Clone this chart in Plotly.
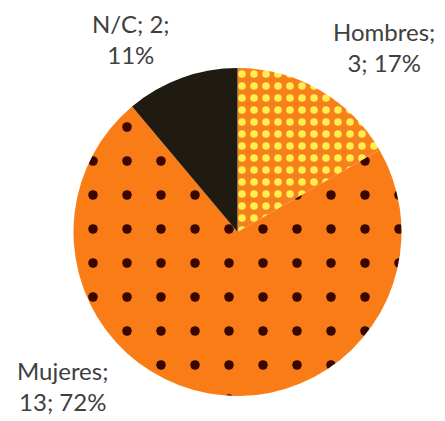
import plotly.graph_objects as go

labels = ["Hombres", "Mujeres", "N/C"]
values = [3, 13, 2]
percents = ["17%", "72%", "11%"]

bg_colors = ["#F8801A", "#F97C16", "#1F1B10"]
fg_colors = ["#FFEE50", "#3A0600", "#1F1B10"]
shapes = [".", ".", ""]
sizes = [12, 34, 8]
solidities = [0.32, 0.062, 0.3]

# The page body adds an 8px offset; the figure is sized to fit the window.
W, H = 437, 413

fig = go.Figure(go.Pie(
    labels=labels,
    values=values,
    sort=False,
    direction="clockwise",
    rotation=0,
    textinfo="none",
    hoverinfo="label+value+percent",
    showlegend=False,
    marker=dict(
        colors=bg_colors,
        line=dict(width=0),
        pattern=dict(
            shape=shapes,
            bgcolor=bg_colors,
            fgcolor=fg_colors,
            fgopacity=1,
            size=sizes,
            solidity=solidities,
        ),
    ),
    domain=dict(x=[0.1499, 0.9005], y=[0.0605, 0.8547]),
))

label_texts = {
    "Hombres": f"{labels[0]};<br>{values[0]}; {percents[0]}",
    "Mujeres": f"{labels[1]};<br>{values[1]}; {percents[1]}",
    "N/C": f"{labels[2]}; {values[2]};<br>{percents[2]}",
}
label_pos = {
    "Hombres": (0.860, 0.906),
    "Mujeres": (0.1236, 0.085),
    "N/C": (0.2815, 0.925),
}
for k, txt in label_texts.items():
    x, y = label_pos[k]
    fig.add_annotation(
        text=txt, x=x, y=y, xref="paper", yref="paper",
        xanchor="center", yanchor="middle", align="center",
        showarrow=False,
        font=dict(family="Lato", size=24, color="#404040"),
    )

fig.update_layout(
    width=W, height=H,
    margin=dict(l=0, r=0, t=0, b=0),
    paper_bgcolor="white",
    plot_bgcolor="white",
)

fig.write_html("out.html")
